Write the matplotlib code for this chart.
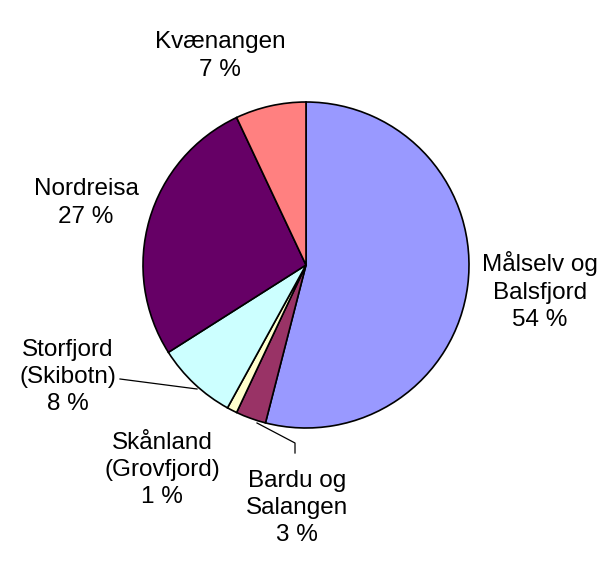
import matplotlib.pyplot as plt
import matplotlib.transforms as mtransforms

# data
names = ["Målselv og\nBalsfjord", "Bardu og\nSalangen", "Skånland\n(Grovfjord)",
         "Storfjord\n(Skibotn)", "Nordreisa", "Kvænangen"]
shares = [54, 3, 1, 8, 27, 7]
colors = ["#9999FF", "#993366", "#FFFFCC", "#CCFFFF", "#660066", "#FF8080"]

# label placement in pixel coords (layout only)
label_pos = [(540, 291), (297, 508), (162, 470), (68, 377), (86, 203), (220, 56)]

plt.rcParams['font.family'] = ['Liberation Sans', 'DejaVu Sans']

fig = plt.figure(figsize=(6.05, 5.63), dpi=100)
ax = fig.add_axes([0, 0, 1, 1])

cx, cy, r = 306, 265, 163
wedges, _ = ax.pie(shares, colors=colors, startangle=90, counterclock=False,
                   center=(cx, cy), radius=r, frame=True,
                   wedgeprops=dict(edgecolor='black', linewidth=1.2))
# y axis is inverted (pixel coords), so mirror the wedges about the centre
flip = mtransforms.Affine2D().translate(-cx, -cy).scale(1, -1).translate(cx, cy)
for w in wedges:
    w.set_transform(flip + ax.transData)
ax.set_xlim(0, 605)
ax.set_ylim(563, 0)
ax.set_aspect('equal')
ax.axis('off')

for name, val, (x, y) in zip(names, shares, label_pos):
    ax.text(x, y, f"{name}\n{val} %", ha='center', va='center', fontsize=17.5,
            linespacing=1.3)

# leader lines
ax.plot([120, 197], [379, 389], color='black', lw=0.9)
ax.plot([257, 295, 295], [423, 443, 453], color='black', lw=0.9)

fig.savefig("out.png", dpi=100)
